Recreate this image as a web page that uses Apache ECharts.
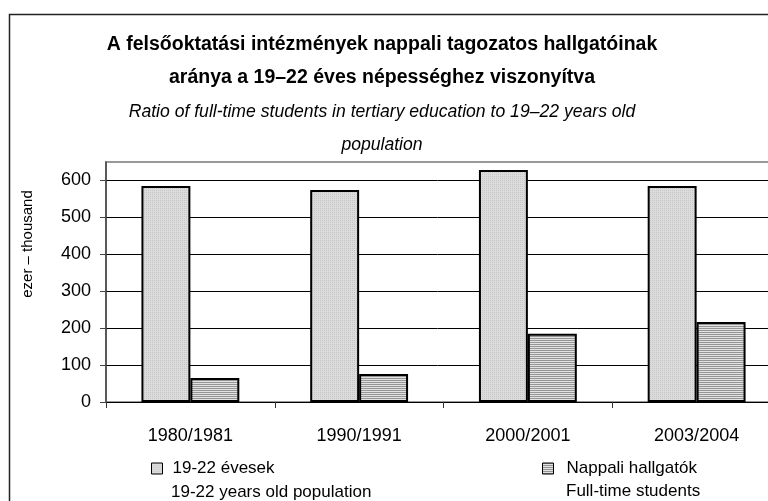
<!DOCTYPE html>
<html><head><meta charset="utf-8">
<script src="https://cdn.jsdelivr.net/npm/echarts@6/dist/echarts.min.js"></script>
<style>html,body{margin:0;padding:0;background:#fff}#c{width:768px;height:501px}</style>
</head><body><div id="c"></div>
<script>
const categories = ['1980/1981', '1990/1991', '2000/2001', '2003/2004'];
const population = [585, 574, 628, 585];
const students = [65, 76, 185, 217];
const seriesNames = ['19-22 évesek', 'Nappali hallgatók'];
const seriesNamesEn = ['19-22 years old population', 'Full-time students'];
const titleHu = 'A felsőoktatási intézmények nappali tagozatos hallgatóinak\naránya a 19–22 éves népességhez viszonyítva';
const titleEn = 'Ratio of full-time students in tertiary education to 19–22 years old\npopulation';
const yName = 'ezer – thousand';

function pattern(w, h, draw) {
  const c = document.createElement('canvas'); c.width = w; c.height = h;
  const g = c.getContext('2d'); draw(g); return {image: c, repeat: 'repeat'};
}
const dotted = pattern(2, 2, g => { g.fillStyle = '#dcdcdc'; g.fillRect(0,0,2,2); g.fillStyle = '#c6c6c6'; g.fillRect(0,0,1,1); });
const hatched = pattern(2, 2, g => { g.fillStyle = '#e2e2e2'; g.fillRect(0,0,2,2); g.fillStyle = '#959595'; g.fillRect(0,0,2,1); });

const FONT = "'Liberation Sans', Arial, sans-serif";
const chart = echarts.init(document.getElementById('c'), null, {renderer: 'canvas'});
chart.setOption({
  animation: false,
  backgroundColor: '#fff',
  textStyle: {fontFamily: FONT, color: '#000'},
  title: {
    text: titleHu, subtext: titleEn, left: 382, textAlign: 'center', top: 28, padding: 0,
    itemGap: 2,
    textStyle: {fontFamily: FONT, fontSize: 19.5, fontWeight: 'bold', color: '#000', lineHeight: 33},
    subtextStyle: {fontFamily: FONT, fontSize: 17.6, fontStyle: 'italic', color: '#000', lineHeight: 33}
  },
  grid: {left: 106, right: -13, top: 162, height: 240, show: true, borderColor: '#999', borderWidth: 2,
         outerBoundsMode: 'none', containLabel: false},
  legend: [
    {data: [seriesNames[0]], icon: 'rect', left: 151, top: 460, padding: 0, itemWidth: 11, itemHeight: 11,
     itemStyle: {borderWidth: 1, borderColor: '#000'}, textStyle: {fontSize: 17, fontFamily: FONT, color: '#000', padding: [0,0,0,5]}},
    {data: [seriesNames[1]], icon: 'rect', left: 542, top: 460, padding: 0, itemWidth: 11, itemHeight: 11,
     itemStyle: {borderWidth: 1, borderColor: '#000'}, textStyle: {fontSize: 17, fontFamily: FONT, color: '#000', padding: [0,0,0,8]}}
  ],
  xAxis: {
    type: 'category', data: categories,
    axisLine: {lineStyle: {color: '#000', width: 1}},
    axisTick: {show: true, length: 6, inside: false, lineStyle: {color: '#333'}},
    axisLabel: {fontSize: 18, fontFamily: FONT, color: '#000', margin: 25}
  },
  yAxis: {
    type: 'value', min: 0, max: 650, interval: 100,
    axisLine: {show: true, lineStyle: {color: '#444', width: 1.5}},
    axisTick: {show: true, length: 6, lineStyle: {color: '#444'}},
    axisLabel: {fontSize: 18, fontFamily: FONT, color: '#000', margin: 15, showMaxLabel: false},
    splitLine: {show: true, lineStyle: {color: ['#000','#000','#000','#000','#000','#000','#000','#999'], width: 1}}
  },
  series: [
    {name: seriesNames[0], type: 'bar', data: population, barGap: '0%', barCategoryGap: '42%',
     itemStyle: {color: dotted, borderColor: '#000', borderWidth: 2}},
    {name: seriesNames[1], type: 'bar', data: students, barGap: '0%', barCategoryGap: '42%',
     itemStyle: {color: hatched, borderColor: '#000', borderWidth: 2}}
  ],
  graphic: [
    {type: 'rect', shape: {x: 9.5, y: 14.5, width: 800, height: 520}, style: {fill: null, stroke: '#222', lineWidth: 1.5}, silent: true, z: -1},
    {type: 'text', x: 28, y: 244, rotation: Math.PI / 2, style: {text: yName, font: '15px ' + FONT, fill: '#000', align: 'center', verticalAlign: 'middle'}},
    {type: 'text', x: 171, y: 492, style: {text: seriesNamesEn[0], font: '17px ' + FONT, fill: '#000', align: 'left', verticalAlign: 'middle'}},
    {type: 'text', x: 566, y: 491, style: {text: seriesNamesEn[1], font: '17px ' + FONT, fill: '#000', align: 'left', verticalAlign: 'middle'}}
  ]
});
</script></body></html>
